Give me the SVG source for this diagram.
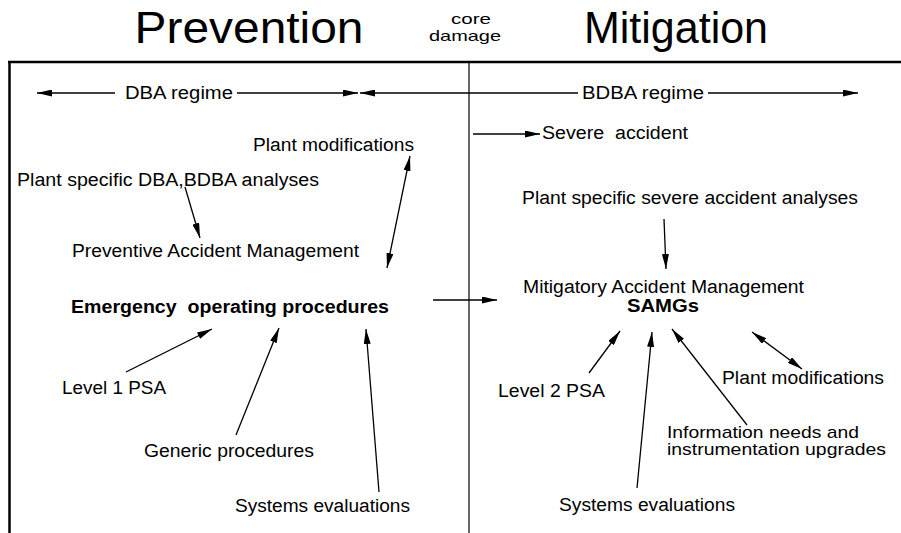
<svg xmlns="http://www.w3.org/2000/svg" width="901" height="533" viewBox="0 0 901 533">
  <style>
    text { font-family: "Liberation Sans", Arial, Helvetica, sans-serif; fill: #000; white-space: pre; }
    .t { font-size: 18px; }
    .t2 { font-size: 17px; }
    .b { font-size: 18px; font-weight: bold; }
    .h { font-size: 44px; }
    .s { font-size: 15px; }
    .frame { stroke: #000; fill: none; }
    .c { stroke: #000; stroke-width: 1.3; fill: none; marker-end: url(#ah); }
    .d { stroke: #000; stroke-width: 1.3; fill: none; marker-start: url(#ah); marker-end: url(#ah); }
  </style>
  <defs>
    <marker id="ah" markerUnits="userSpaceOnUse" markerWidth="15" markerHeight="7" refX="15" refY="3.5" orient="auto-start-reverse">
      <path d="M0,0 L15,3.5 L0,7 z" fill="#000"/>
    </marker>
  </defs>
  <rect width="901" height="533" fill="#fff"/>

  <!-- headings -->
  <g id="heading-prevention"><text class="h" x="134.5" y="43" textLength="229" lengthAdjust="spacingAndGlyphs">Prevention</text></g>
  <g id="heading-core-damage">
    <text class="s" x="451" y="24" textLength="40" lengthAdjust="spacingAndGlyphs">core</text>
    <text class="s" x="429" y="40.5" textLength="72" lengthAdjust="spacingAndGlyphs">damage</text>
  </g>
  <g id="heading-mitigation"><text class="h" x="584" y="43" textLength="184" lengthAdjust="spacingAndGlyphs">Mitigation</text></g>

  <!-- frame -->
  <g id="frame">
    <line class="frame" x1="8" y1="62" x2="901" y2="62" stroke-width="2.5"/>
    <line class="frame" x1="9.5" y1="61" x2="9.5" y2="533" stroke-width="2.5"/>
    <line class="frame" x1="469" y1="62" x2="469" y2="533" stroke-width="1.2"/>
  </g>

  <!-- nodes -->
  <g id="dba-regime"><text class="t" x="125" y="98.5" textLength="108" lengthAdjust="spacingAndGlyphs">DBA regime</text></g>
  <g id="bdba-regime"><text class="t" x="582" y="98.5" textLength="122" lengthAdjust="spacingAndGlyphs">BDBA regime</text></g>
  <g id="plant-mod-left"><text class="t" x="253" y="150.5" textLength="161" lengthAdjust="spacingAndGlyphs">Plant modifications</text></g>
  <g id="severe-accident"><text class="t" x="542" y="138.5" textLength="146" lengthAdjust="spacingAndGlyphs">Severe  accident</text></g>
  <g id="dba-analyses"><text class="t" x="17" y="186" textLength="302" lengthAdjust="spacingAndGlyphs">Plant specific DBA,BDBA analyses</text></g>
  <g id="sa-analyses"><text class="t" x="522" y="204" textLength="336" lengthAdjust="spacingAndGlyphs">Plant specific severe accident analyses</text></g>
  <g id="preventive-am"><text class="t" x="72" y="257" textLength="287" lengthAdjust="spacingAndGlyphs">Preventive Accident Management</text></g>
  <g id="mitigatory-am"><text class="t" x="523" y="293" textLength="281" lengthAdjust="spacingAndGlyphs">Mitigatory Accident Management</text></g>
  <g id="eop"><text class="b" x="71" y="312.7" textLength="318" lengthAdjust="spacingAndGlyphs">Emergency  operating procedures</text></g>
  <g id="samgs"><text class="b" x="627" y="312" textLength="72" lengthAdjust="spacingAndGlyphs">SAMGs</text></g>
  <g id="level1-psa"><text class="t" x="62" y="394" textLength="104" lengthAdjust="spacingAndGlyphs">Level 1 PSA</text></g>
  <g id="level2-psa"><text class="t" x="498" y="397" textLength="107" lengthAdjust="spacingAndGlyphs">Level 2 PSA</text></g>
  <g id="plant-mod-right"><text class="t" x="722" y="384" textLength="162" lengthAdjust="spacingAndGlyphs">Plant modifications</text></g>
  <g id="generic-procedures"><text class="t" x="144" y="456.7" textLength="170" lengthAdjust="spacingAndGlyphs">Generic procedures</text></g>
  <g id="information-needs">
    <text class="t2" x="667" y="438" textLength="192" lengthAdjust="spacingAndGlyphs">Information needs and</text>
    <text class="t2" x="667" y="455" textLength="219" lengthAdjust="spacingAndGlyphs">instrumentation upgrades</text>
  </g>
  <g id="systems-eval-left"><text class="t" x="235" y="511.7" textLength="175" lengthAdjust="spacingAndGlyphs">Systems evaluations</text></g>
  <g id="systems-eval-right"><text class="t" x="559" y="511" textLength="176" lengthAdjust="spacingAndGlyphs">Systems evaluations</text></g>

  <!-- connectors -->
  <g id="connectors">
    <path class="c" d="M115,93 L37,93"/>
    <path class="c" d="M237,93 L358,93"/>
    <path class="c" d="M578,93 L360,93"/>
    <path class="c" d="M708,93 L858,93"/>
    <path class="c" d="M473,134 L540,134"/>
    <path class="c" d="M185,187 L200,238"/>
    <path class="d" d="M410,156 L387,268"/>
    <path class="c" d="M433,300 L497,300"/>
    <path class="c" d="M664,219 L666,269"/>
    <path class="c" d="M126,372 L212,329"/>
    <path class="c" d="M236,435 L279,328"/>
    <path class="c" d="M379,492 L366,329"/>
    <path class="c" d="M589,373 L620,331"/>
    <path class="c" d="M637,488 L652,332"/>
    <path class="c" d="M747,425 L672,329"/>
    <path class="d" d="M752,332 L802,369"/>
  </g>
</svg>
